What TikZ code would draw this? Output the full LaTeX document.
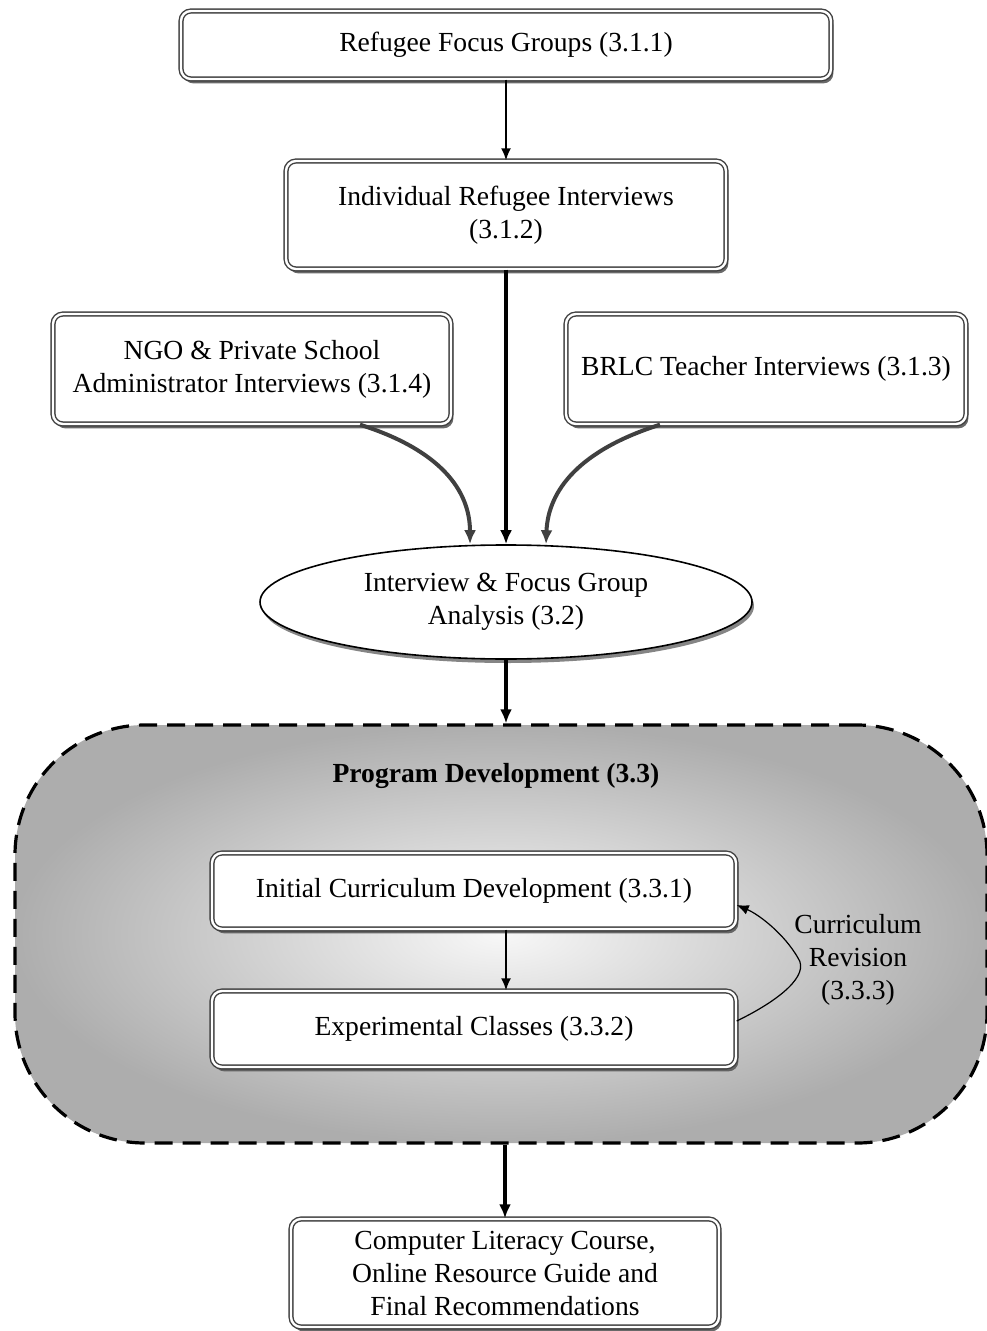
\documentclass[tikz,border=0pt]{standalone}
\usepackage{fontspec}
\setmainfont{Liberation Serif}
\usetikzlibrary{arrows.meta,shadows,shapes.geometric}
\begin{document}
\begin{tikzpicture}[x=0.5pt,y=-0.5pt,
  font=\fontsize{13.8}{16.5}\selectfont,
  dbox/.style={draw=black!75, double=white, double distance=1.2pt, line width=0.7pt,
    rounded corners=5pt, fill=white, align=center, inner sep=2pt,
    drop shadow={shadow xshift=1.2pt, shadow yshift=-2.2pt, fill=black!65, opacity=0.9}},
  thin/.style={-{Latex[length=6pt,width=5pt]}, line width=0.8pt},
  thick/.style={-{Latex[length=7pt,width=6pt]}, line width=1.6pt},
  curv/.style={-{Latex[length=7pt,width=6pt]}, line width=2pt, draw=black!75}
]
\useasboundingbox (0,0) rectangle (986,1331);

\node[dbox, minimum width=325pt, minimum height=34pt] (rfg) at (506,45) {Refugee Focus Groups (3.1.1)};
\node[dbox, minimum width=220pt, minimum height=54pt] (iri) at (506,215) {Individual Refugee Interviews\\(3.1.2)};
\node[dbox, minimum width=199pt, minimum height=55pt] (ngo) at (252,369) {NGO \& Private School\\Administrator Interviews (3.1.4)};
\node[dbox, minimum width=200pt, minimum height=55pt] (brlc) at (766,369) {BRLC Teacher Interviews (3.1.3)};

\node[ellipse, draw=black, line width=0.8pt, fill=white, align=center,
  minimum width=246pt, minimum height=57pt, inner sep=0pt,
  drop shadow={shadow xshift=1pt, shadow yshift=-2pt, fill=black!60, opacity=0.8}]
  (ana) at (506,602) {Interview \& Focus Group\\Analysis (3.2)};

\node[draw=black, dashed, dash pattern=on 9pt off 5pt, line width=1.6pt,
  rounded corners=65pt, minimum width=486pt, minimum height=209pt,
  inner color=black!3, outer color=black!32] (prog) at (501,934) {};
\node[font=\fontsize{13.8}{16.5}\selectfont\bfseries] (progt) at (496,776) {Program Development (3.3)};

\node[dbox, minimum width=262pt, minimum height=38pt] (icd) at (474,891) {Initial Curriculum Development (3.3.1)};
\node[dbox, minimum width=262pt, minimum height=38pt] (exp) at (474,1029) {Experimental Classes (3.3.2)};
\node[align=center] (rev) at (858,960) {Curriculum\\Revision\\(3.3.3)};

\node[dbox, minimum width=214pt, minimum height=54pt] (out) at (505,1273)
  {Computer Literacy Course,\\Online Resource Guide and\\Final Recommendations};

\draw[thin] (rfg.south) -- (iri.north);
\draw[thick] (iri.south) -- (ana.north);
\draw[curv] ([xshift=54pt]ngo.south) .. controls (440,450) and (470,490) .. ([xshift=-18pt]ana.north);
\draw[curv] ([xshift=-53pt]brlc.south) .. controls (580,450) and (548,490) .. ([xshift=20pt]ana.north);
\draw[thick] (ana.south) -- (ana.south |- prog.north);
\draw[thin] (icd.south -| 506,0) -- (exp.north -| 506,0);
\draw[thin, line width=0.6pt] ([yshift=4pt]exp.east) .. controls (780,1000) and (810,975) .. (798,958)
   .. controls (785,935) and (760,915) .. ([yshift=-7pt]icd.east);
\draw[thick] (prog.south -| out.north) -- (out.north);
\end{tikzpicture}
\end{document}
